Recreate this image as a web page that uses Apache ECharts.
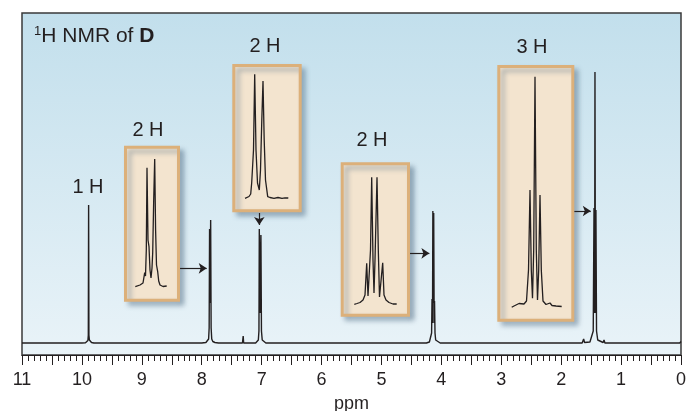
<!DOCTYPE html>
<html>
<head>
<meta charset="utf-8">
<script src="https://cdn.jsdelivr.net/npm/echarts@6/dist/echarts.min.js"></script>
<style>
html,body{margin:0;padding:0;background:#fff;}
#chart{width:686px;height:411px;}
</style>
</head>
<body>
<div id="chart"></div>
<script>
// ---------- DATA ----------
// Main 1H NMR spectrum: [ppm, intensity]
const mainSpectrum = [
  [11, 0], [10.0, 0], [9.94, 0.3], [9.91, 1], [9.9, 2.5], [9.893, 8], [9.888, 138], [9.883, 8], [9.875, 3], [9.86, 1.5], [9.84, 0.5], [9.80, 0],
  [8.0, 0], [7.93, 0.5], [7.9, 1.5], [7.885, 4], [7.876, 15], [7.869, 114], [7.86, 40], [7.851, 123], [7.843, 15], [7.833, 4], [7.815, 1.5], [7.78, 0.5], [7.72, 0],
  [7.32, 0], [7.308, 7], [7.3, 0], [7.25, 0], [7.235, 1.5], [7.22, 0],
  [7.1, 0], [7.07, 1], [7.055, 3], [7.045, 12], [7.039, 114], [7.026, 30], [7.012, 108], [7.003, 12], [6.99, 3], [6.97, 1], [6.93, 0],
  [6.84, 0], [6.825, 2], [6.81, 0],
  [4.25, 0], [4.2, 1], [4.175, 3], [4.163, 10], [4.156, 44], [4.148, 20], [4.142, 132], [4.134, 40], [4.128, 130], [4.12, 20], [4.114, 42], [4.106, 10], [4.095, 3], [4.07, 1], [4.02, 0],
  [1.65, 0], [1.625, 4], [1.61, 0.5], [1.52, 1], [1.49, 3], [1.465, 12], [1.452, 135], [1.442, 30], [1.436, 271], [1.428, 30], [1.42, 133], [1.41, 12], [1.39, 3], [1.36, 1], [1.30, 0.5], [1.285, 3], [1.27, 0],
  [0.02, 0], [0, 1.5]
];
// Expanded multiplets (insets): [Hz offset from multiplet centre, intensity]
const inset1 = [[15.7,0],[14,1.2],[11,1.7],[8,3.7],[6.3,14],[5.5,10.7],[4.7,36.7],[4,119],[3,46.7],[2,40],[1,16.7],[0,8.7],[-1,18.7],[-1.7,34],[-2.7,86.7],[-3.7,127.7],[-4.6,56.7],[-5.5,21.7],[-6.7,15],[-7.7,5.7],[-9,1.7],[-12,0.2],[-15.7,0.7]];
const inset2 = [[14.3,0],[12.3,0.8],[10.3,1.8],[8.6,4.3],[7.6,15.6],[6.8,15.3],[5.8,48.3],[4.6,124],[3.3,48.3],[1.8,15.3],[0,8.3],[-1.2,28.3],[-2.5,78.3],[-3.7,117.3],[-4.9,58.3],[-6.2,18.3],[-8.4,1.6],[-10.7,0.8],[-14.7,0],[-18.7,0.8],[-22.7,0],[-25.7,0.5],[-29,0.3]];
const inset3 = [[19.7,0],[17,0.8],[14,1.8],[11,4.3],[9,9.3],[7.3,41],[6,8.3],[5,6.3],[3.5,54.3],[2.3,127],[1,44.3],[0,11.3],[-1,44.3],[-3,127],[-4.3,54.3],[-5.5,7.3],[-7,8.3],[-8.7,41.6],[-10,9.3],[-12,4.3],[-15,1.8],[-19,0.3],[-22.7,0.3]];
const inset4 = [[23.3,0],[21,1.3],[19,0.8],[16,3.8],[14,2.3],[11,3.3],[8.5,6.3],[6.5,37.3],[5,117.3],[3.7,37.3],[2.5,9],[1.3,57.3],[0,230.6],[-1.3,57.3],[-2.5,7.3],[-3.7,37.3],[-5,112.3],[-6.3,37.3],[-8,6.3],[-11,2.8],[-15,4.3],[-17,1.8],[-21,1.3],[-26.7,0.8]];
// Integration labels
const integrationLabels = ['1 H', '2 H', '2 H', '2 H', '3 H'];
// Arrows from insets to peaks: [[ppmFrom, intFrom], [ppmTo, intTo]]
const arrows = [
  [[8.362, 74.7], [7.917, 74.7]],
  [[7.039, 130], [7.039, 118]],
  [[4.523, 89.7], [4.200, 89.7]],
  [[1.780, 132], [1.506, 132]]
];
const xTickLabels = ['0','1','2','3','4','5','6','7','8','9','10','11'];

// ---------- CHART ----------
const FONT = '"Liberation Sans", Arial, Helvetica, sans-serif';
const INK = '#231f20';
const chart = echarts.init(document.getElementById('chart'), null, {renderer: 'canvas'});

const insetBoxes = [
  {left: 125.5, top: 147.2, width: 53, height: 153, xr: [-27.5, 25.5], yr: [-13.5, 139.5], data: inset1},
  {left: 233.8, top: 65.5, width: 66.4, height: 145.3, xr: [-40.9, 25.5], yr: [-12.5, 132.8], data: inset2},
  {left: 342.2, top: 163.8, width: 66.3, height: 151.4, xr: [-34.5, 31.8], yr: [-10.9, 140.5], data: inset3},
  {left: 498.8, top: 66.5, width: 74, height: 253.7, xr: [-37.8, 36.2], yr: [-12.9, 240.8], data: inset4}
];

const grids = [{
  left: 22, right: 5, top: 13, bottom: 56, show: true,
  containLabel: false, outerBoundsMode: 'none',
  backgroundColor: {type: 'linear', x: 0, y: 0, x2: 0, y2: 1,
    colorStops: [{offset: 0, color: '#c2dfec'}, {offset: 1, color: '#e9f3f8'}]},
  borderColor: '#3a3a3a', borderWidth: 1.5
}];
const xAxes = [{
  gridIndex: 0, type: 'value', min: 0, max: 11, interval: 0.5, inverse: true,
  axisLine: {show: true, onZero: false, lineStyle: {color: INK, width: 1.2}},
  axisTick: {show: true, length: 10, lineStyle: {color: INK, width: 1}},
  minorTick: {show: true, splitNumber: 5, length: 6, lineStyle: {color: INK, width: 1}},
  splitLine: {show: false},
  axisLabel: {
    showMinLabel: true, showMaxLabel: true, margin: 16,
    fontSize: 18, color: INK, fontFamily: FONT,
    formatter: v => (Number.isInteger(v) ? xTickLabels[v] : '')
  },
  name: 'ppm', nameLocation: 'middle', nameGap: 40,
  nameTextStyle: {fontSize: 18, color: INK, fontFamily: FONT}
}];
const yAxes = [{gridIndex: 0, type: 'value', min: -12, max: 330, show: false}];
const series = [{
  type: 'line', xAxisIndex: 0, yAxisIndex: 0, data: mainSpectrum,
  showSymbol: false, symbol: 'none', animation: false,
  lineStyle: {color: INK, width: 1.4}, z: 5,
  markLine: {
    silent: true, animation: false, symbol: ['none', 'arrow'], symbolSize: 8,
    lineStyle: {color: INK, width: 1.2, type: 'solid'},
    label: {show: false},
    data: arrows.map(a => [{coord: a[0]}, {coord: a[1]}])
  }
}];

insetBoxes.forEach((b, i) => {
  const gi = i + 1;
  grids.push({
    left: b.left, top: b.top, width: b.width, height: b.height, show: true,
    containLabel: false, outerBoundsMode: 'none',
    backgroundColor: '#f3e4cf', borderColor: '#dcb07a', borderWidth: 3,
    shadowColor: 'rgba(70,100,125,0.45)', shadowBlur: 5, shadowOffsetX: 4, shadowOffsetY: 4
  });
  xAxes.push({gridIndex: gi, type: 'value', min: b.xr[0], max: b.xr[1], inverse: true, show: false});
  yAxes.push({gridIndex: gi, type: 'value', min: b.yr[0], max: b.yr[1], show: false});
  series.push({
    type: 'line', xAxisIndex: gi, yAxisIndex: gi, data: b.data,
    showSymbol: false, symbol: 'none', animation: false,
    lineStyle: {color: INK, width: 1.3}, z: 5
  });
});

const labelPos = [[88, 187], [148, 130], [265, 46], [372, 140], [532, 47]];
const graphics = [{
  type: 'text', left: 34, top: 25, z: 10,
  style: {
    text: '{sup|1}{n|H NMR of }{b|D}',
    rich: {
      sup: {fontSize: 13, fontFamily: FONT, fill: INK, verticalAlign: 'top', lineHeight: 23},
      n: {fontSize: 21, fontFamily: FONT, fill: INK, lineHeight: 23},
      b: {fontSize: 21, fontFamily: FONT, fill: INK, fontWeight: 'bold', lineHeight: 23}
    }
  }
}];
integrationLabels.forEach((t, i) => {
  graphics.push({
    type: 'text', x: labelPos[i][0], y: labelPos[i][1], z: 10,
    style: {text: t, fontSize: 20, fontFamily: FONT, fill: INK, align: 'center', verticalAlign: 'middle'}
  });
});

chart.setOption({
  animation: false,
  backgroundColor: '#ffffff',
  grid: grids, xAxis: xAxes, yAxis: yAxes, series: series,
  graphic: graphics
});
</script>
</body>
</html>
